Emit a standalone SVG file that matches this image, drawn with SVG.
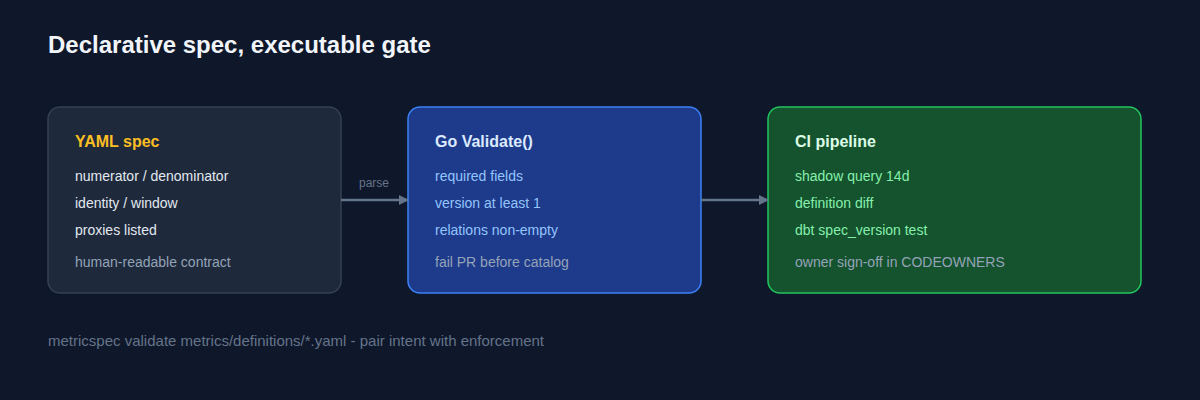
<svg xmlns="http://www.w3.org/2000/svg" width="1200" height="400" viewBox="0 0 1200 400">
<defs>
<style>
text{font-family:"Liberation Sans",Arial,sans-serif}
.t{font-size:16px;font-weight:bold}
.i{font-size:14px}
.n{font-size:14px;fill:#94a3b8}
</style>
<marker id="a" markerWidth="10" markerHeight="10" refX="9" refY="5" orient="auto" markerUnits="userSpaceOnUse"><path d="M0,0 L10,5 L0,10 z" fill="#64748b"/></marker>
</defs>
<rect width="1200" height="400" fill="#0f172a"/>
<text x="48" y="53" font-size="24" font-weight="bold" fill="#f1f5f9">Declarative spec, executable gate</text>
<g id="n1">
<rect x="48" y="107" width="293" height="186" rx="12" fill="#1e293b" stroke="#334155" stroke-width="1.5"/>
<text x="75" y="147" class="t" fill="#fbbf24">YAML spec</text>
<text x="75" y="181" class="i" fill="#e2e8f0">numerator / denominator</text>
<text x="75" y="208" class="i" fill="#e2e8f0">identity / window</text>
<text x="75" y="235" class="i" fill="#e2e8f0">proxies listed</text>
<text x="75" y="267" class="n">human-readable contract</text>
</g>
<g id="n2">
<rect x="408" y="107" width="293" height="186" rx="12" fill="#1e3a8a" stroke="#3b82f6" stroke-width="1.5"/>
<text x="435" y="147" class="t" fill="#dbeafe">Go Validate()</text>
<text x="435" y="181" class="i" fill="#93c5fd">required fields</text>
<text x="435" y="208" class="i" fill="#93c5fd">version at least 1</text>
<text x="435" y="235" class="i" fill="#93c5fd">relations non-empty</text>
<text x="435" y="267" class="n">fail PR before catalog</text>
</g>
<g id="n3">
<rect x="768" y="107" width="373" height="186" rx="12" fill="#14532d" stroke="#22c55e" stroke-width="1.5"/>
<text x="795" y="147" class="t" fill="#dcfce7">CI pipeline</text>
<text x="795" y="181" class="i" fill="#86efac">shadow query 14d</text>
<text x="795" y="208" class="i" fill="#86efac">definition diff</text>
<text x="795" y="235" class="i" fill="#86efac">dbt spec_version test</text>
<text x="795" y="267" class="n">owner sign-off in CODEOWNERS</text>
</g>
<g id="edges" stroke="#64748b" stroke-width="2.5" fill="none">
<line x1="341" y1="200" x2="408" y2="200" marker-end="url(#a)"/>
<line x1="701" y1="200" x2="768" y2="200" marker-end="url(#a)"/>
<text x="374" y="187" font-size="12" fill="#64748b" stroke="none" text-anchor="middle">parse</text>
</g>
<text x="48" y="346" font-size="15" fill="#64748b">metricspec validate metrics/definitions/*.yaml - pair intent with enforcement</text>
</svg>
